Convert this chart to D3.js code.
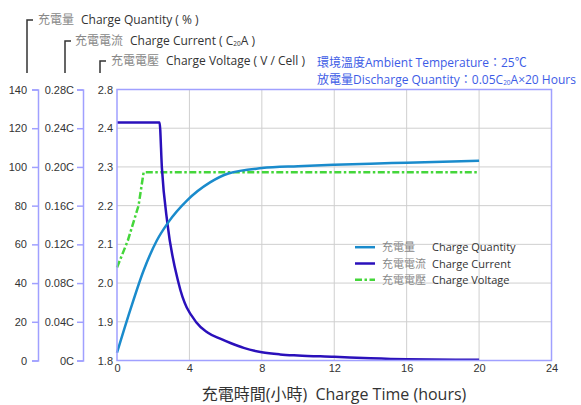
<!DOCTYPE html>
<html><head><meta charset="utf-8">
<script src="https://cdn.jsdelivr.net/npm/d3@7/dist/d3.min.js"></script>
<style>body{margin:0;background:#fff} svg{display:block} text{white-space:pre}</style>
</head><body><svg id="c" width="581" height="405"></svg>
<script>
// ---- data ----
const quantityHours = [0, 0.73, 1.47, 2.2, 2.84, 3.86, 5.14, 6.15, 8, 10, 12, 14, 16, 18, 20];
const quantityPct   = [4, 26, 46.5, 62, 71.5, 82.6, 92, 96.6, 99.4, 100.4, 101.1, 101.7, 102.2, 102.7, 103.2];
const currentHours  = [0, 2.35, 2.48, 2.79, 3.4, 4.4, 5, 5.7, 6.3, 7, 8, 9, 10, 12, 14, 16, 20];
const currentC      = [0.246, 0.246, 0.199, 0.141, 0.080, 0.039, 0.029, 0.0225, 0.0178, 0.013, 0.0085, 0.0063, 0.0052, 0.0038, 0.0022, 0.0012, 0.0007];
const voltageHours  = [0, 0.6, 1.19, 1.47, 20];
const voltageV      = [2.04, 2.11, 2.2, 2.286, 2.286];

const xTicks = [0, 4, 8, 12, 16, 20, 24];
const quantityTicks = [0, 20, 40, 60, 80, 100, 120, 140];
const currentTicks = [0, 0.04, 0.08, 0.12, 0.16, 0.20, 0.24, 0.28];
const currentTickLabels = ["0C", "0.04C", "0.08C", "0.12C", "0.16C", "0.20C", "0.24C", "0.28C"];
const voltageTicks = [1.8, 1.9, 2.0, 2.1, 2.2, 2.3, 2.4, 2.8];
const voltageTickLabels = ["1.8", "1.9", "2.0", "2.1", "2.2", "2.3", "2.4", "2.8"];

const legendZh = ["充電量", "充電電流", "充電電壓"];
const legendEn = ["Charge Quantity", "Charge Current", "Charge Voltage"];

// ---- layout ----
const L = 117, R = 551.5, T = 89.5, B = 360.5;
const step = (B - T) / 7;
const colQ = "#1a8bcc", colC = "#2a10bb", colV = "#44d63a";
const axisCol = "#a0a0ff";
const tickFont = "'Liberation Sans', Arial, sans-serif";
const textFont = "'Open Sans', 'Noto Sans CJK TC', sans-serif";

const svg = d3.select("#c");
const x = d3.scaleLinear().domain([0, 24]).range([L, R]);
const yQ = d3.scaleLinear().domain([0, 140]).range([B, T]);
const yC = d3.scaleLinear().domain([0, 0.28]).range([B, T]);
const yV = d3.scaleLinear().domain([1.8, 2.4, 2.8]).range([B, B - 6 * step, T]);

// grid
const g = svg.append("g");
g.selectAll("line.vx").data(xTicks.filter(d => d > 0 && d < 24)).join("line")
  .attr("x1", d => x(d)).attr("x2", d => x(d)).attr("y1", T).attr("y2", B)
  .attr("stroke", "#cfcfcf").attr("stroke-width", 1);
g.selectAll("line.hy").data(voltageTicks.filter(d => d > 1.8 && d < 2.8)).join("line")
  .attr("x1", L).attr("x2", R).attr("y1", d => yV(d)).attr("y2", d => yV(d))
  .attr("stroke", "#cfcfcf").attr("stroke-width", 1);

// series
const vData = voltageHours.map((h, i) => [h, voltageV[i]]);
const cData = currentHours.map((h, i) => [h, currentC[i]]);
const qData = quantityHours.map((h, i) => [h, quantityPct[i]]);

svg.append("path").datum(vData)
  .attr("d", d3.line().x(d => x(d[0])).y(d => yV(d[1])))
  .attr("fill", "none").attr("stroke", colV).attr("stroke-width", 2.5)
  .attr("stroke-dasharray", "7,2.5,2.5,2.5");
svg.append("path").datum(cData)
  .attr("d", d3.line().x(d => x(d[0])).y(d => yC(d[1])).curve(d3.curveMonotoneX))
  .attr("fill", "none").attr("stroke", colC).attr("stroke-width", 2.5);
svg.append("path").datum(qData)
  .attr("d", d3.line().x(d => x(d[0])).y(d => yQ(d[1])).curve(d3.curveMonotoneX))
  .attr("fill", "none").attr("stroke", colQ).attr("stroke-width", 2.5);

// frame
svg.append("rect").attr("x", L).attr("y", T).attr("width", R - L).attr("height", B - T)
  .attr("fill", "none").attr("stroke", axisCol).attr("stroke-width", 1.5);

// axes
function styleAxis(sel) {
  sel.selectAll("path.domain").attr("stroke", axisCol).attr("stroke-width", 1.5);
  sel.selectAll(".tick line").attr("stroke", axisCol).attr("stroke-width", 1.5);
  sel.selectAll("text").attr("font-family", tickFont).attr("font-size", 11).attr("fill", "#333");
}
const axQ = svg.append("g").attr("transform", "translate(38,0)")
  .call(d3.axisLeft(yQ).tickValues(quantityTicks).tickSize(6).tickSizeOuter(6).tickPadding(5));
styleAxis(axQ);
const axC = svg.append("g").attr("transform", "translate(83,0)")
  .call(d3.axisLeft(yC).tickValues(currentTicks).tickFormat((d, i) => currentTickLabels[i]).tickSize(6).tickSizeOuter(6).tickPadding(3));
styleAxis(axC);
const axV = svg.append("g").attr("transform", `translate(${L},0)`)
  .call(d3.axisLeft(yV).tickValues(voltageTicks).tickFormat((d, i) => voltageTickLabels[i]).tickSize(0).tickPadding(4));
axV.select("path.domain").remove();
styleAxis(axV);
const axX = svg.append("g").attr("transform", `translate(0,${B})`)
  .call(d3.axisBottom(x).tickValues(xTicks).tickSize(0).tickPadding(4));
axX.select("path.domain").remove();
styleAxis(axX);

// axis titles (brackets)
const titles = [
  {bx: 27, by: 20, tx: 38, zh: "充電量", en: "Charge Quantity ( % )"},
  {bx: 65, by: 41, tx: 75, zh: "充電電流", en: "Charge Current ( C", sub: "20", en2: "A )"},
  {bx: 100, by: 61, tx: 111, zh: "充電電壓", en: "Charge Voltage ( V / Cell )"}
];
titles.forEach(t => {
  svg.append("path").attr("d", `M${t.bx + 6},${t.by} H${t.bx} V73`)
    .attr("fill", "none").attr("stroke", "#333").attr("stroke-width", 1.5);
  const tx = svg.append("text").attr("x", t.tx).attr("y", t.by + 4)
    .attr("font-family", textFont).attr("font-size", 12);
  tx.append("tspan").attr("fill", "#888").text(t.zh);
  tx.append("tspan").attr("fill", "#333").attr("dx", 7).text(t.en);
  if (t.sub) {
    tx.append("tspan").attr("fill", "#333").attr("font-size", 6.5).attr("dy", 1).text(t.sub);
    tx.append("tspan").attr("fill", "#333").attr("dy", -1).text(t.en2);
  }
});

// annotation
const annCol = "#3d5ce6";
svg.append("text").attr("x", 317).attr("y", 67)
  .attr("font-family", textFont).attr("font-size", 12).attr("fill", annCol)
  .text("環境溫度Ambient Temperature：25℃");
const a2 = svg.append("text").attr("x", 317).attr("y", 84)
  .attr("font-family", textFont).attr("font-size", 12).attr("fill", annCol);
a2.append("tspan").text("放電量Discharge Quantity：0.05C");
a2.append("tspan").attr("font-size", 6.5).attr("dy", 1).text("20");
a2.append("tspan").attr("dy", -1).text("A×20 Hours");

// legend
const legCols = [colQ, colC, colV];
const legDash = [null, null, "7,2.5,2.5,2.5"];
const legY = [247.2, 263.5, 279.8];
legendZh.forEach((zh, i) => {
  svg.append("line").attr("x1", 355).attr("x2", 375).attr("y1", legY[i]).attr("y2", legY[i])
    .attr("stroke", legCols[i]).attr("stroke-width", 2.5).attr("stroke-dasharray", legDash[i]);
  svg.append("text").attr("x", 382).attr("y", legY[i] + 4)
    .attr("font-family", textFont).attr("font-size", 11).attr("fill", "#888").text(zh);
  svg.append("text").attr("x", 432).attr("y", legY[i] + 4)
    .attr("font-family", textFont).attr("font-size", 11).attr("fill", "#333").text(legendEn[i]);
});

// x title
svg.append("text").attr("x", 334).attr("y", 400).attr("text-anchor", "middle")
  .attr("font-family", textFont).attr("font-size", 16).attr("fill", "#333")
  .text("充電時間(小時)  Charge Time (hours)");
</script></body></html>
